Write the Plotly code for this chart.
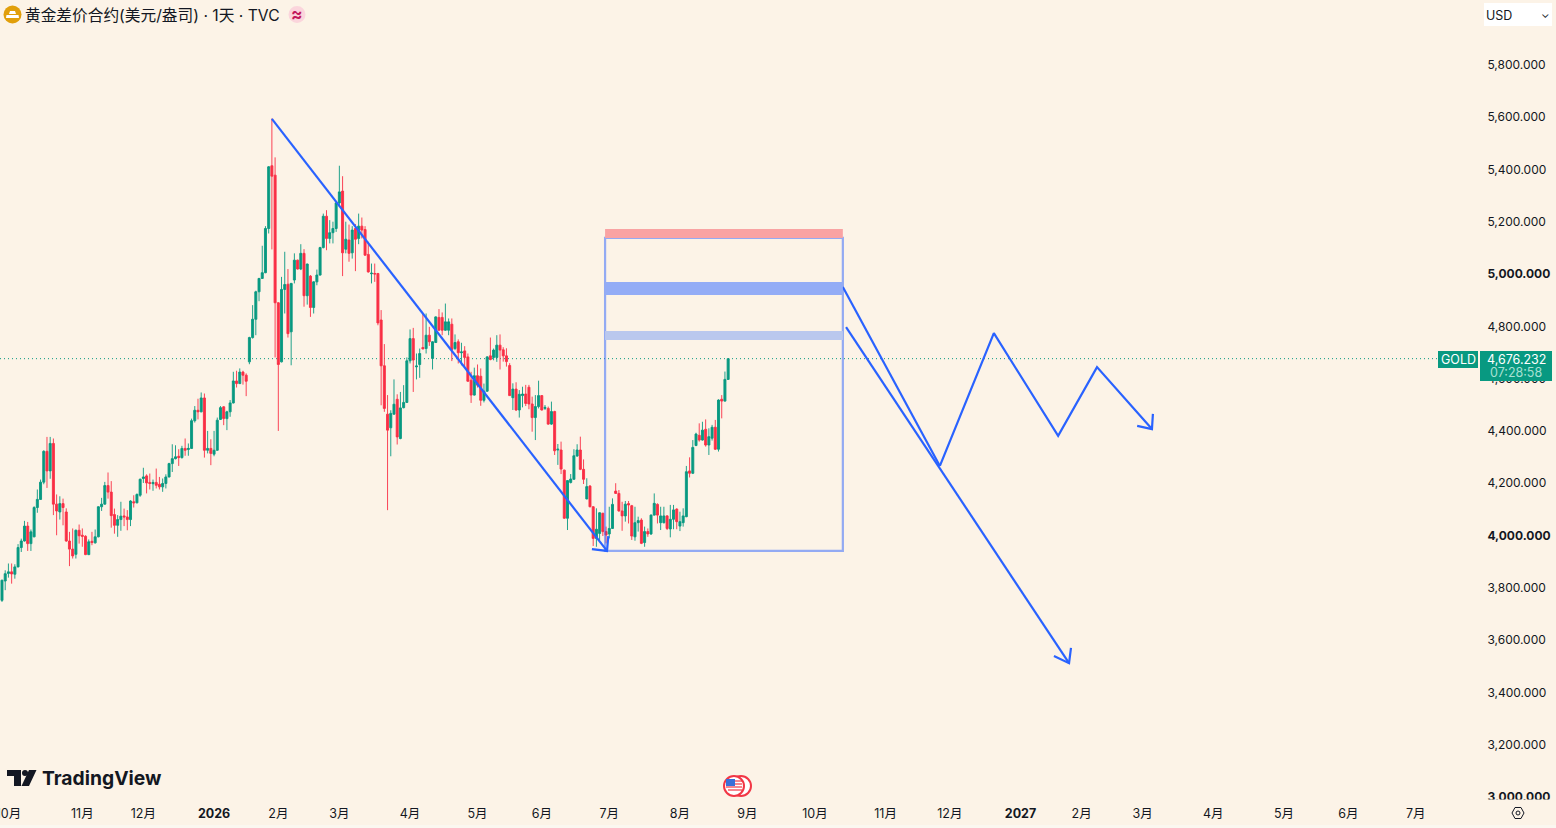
import plotly.graph_objects as go

# daily gold bars. x is the bar number, first bar = 0
opens = [
    3752, 3826, 3855, 3861, 3852, 3880, 3954, 3979, 4036, 3969,
    3995, 4107, 4138, 4204, 4322, 4247, 4352, 4120, 4090, 4122,
    4090, 3979, 3948, 3928, 4020, 4001, 3997, 3927, 3978, 3972,
    3995, 4110, 4120, 4191, 4166, 4080, 4039, 4061, 4075, 4071,
    4061, 4129, 4125, 4154, 4218, 4228, 4203, 4198, 4203, 4196,
    4186, 4199, 4224, 4275, 4294, 4303, 4298, 4333, 4329, 4333,
    4439, 4479, 4473, 4526, 4326, 4333, 4311, 4326, 4444, 4492,
    4447, 4473, 4507, 4591, 4581, 4625, 4613, 4664, 4757, 4827,
    4932, 4983, 5005, 5174, 5414, 5378, 4890, 4664, 4941, 4961,
    4779, 4977, 5053, 5019, 5079, 4917, 4992, 4872, 4970, 4996,
    5101, 5221, 5136, 5158, 5174, 5272, 5317, 5095, 5130, 5081,
    5174, 5136, 5183, 5170, 5075, 5001, 5002, 5002, 4824, 4649,
    4464, 4412, 4464, 4521, 4371, 4489, 4509, 4668, 4753, 4645,
    4654, 4719, 4715, 4766, 4677, 4738, 4834, 4834, 4785, 4785,
    4808, 4715, 4741, 4699, 4706, 4683, 4594, 4537, 4611, 4609,
    4517, 4552, 4687, 4681, 4681, 4728, 4710, 4687, 4650, 4527,
    4560, 4480, 4535, 4541, 4567, 4503, 4451, 4493, 4535, 4486,
    4486, 4426, 4474, 4327, 4327, 4250, 4066, 4203, 4215, 4304,
    4327, 4253, 4140, 4189, 4110, 3989, 4008, 4085, 4015, 4006,
    4027, 4170, 4161, 4094, 4075, 4122, 4114, 3995, 4049, 4059,
    3973, 4015, 4006, 4078, 4119, 4049, 4049, 4075, 4025, 4062,
    4101, 4036, 4049, 4072, 4247, 4238, 4344, 4383, 4365, 4406,
    4346, 4372, 4414, 4330, 4521, 4514, 4597,
]
highs = [
    3831, 3867, 3893, 3893, 3890, 3967, 3988, 4056, 4052, 4023,
    4112, 4176, 4214, 4326, 4377, 4377, 4371, 4157, 4150, 4141,
    4104, 4014, 4027, 4023, 4042, 4027, 4001, 3985, 4014, 4023,
    4112, 4144, 4205, 4241, 4208, 4103, 4078, 4129, 4103, 4097,
    4135, 4154, 4161, 4218, 4259, 4234, 4237, 4214, 4256, 4224,
    4218, 4234, 4278, 4349, 4345, 4330, 4343, 4371, 4352, 4447,
    4495, 4523, 4547, 4543, 4400, 4368, 4400, 4451, 4495, 4495,
    4477, 4518, 4626, 4630, 4639, 4630, 4620, 4760, 4881, 4936,
    4985, 5108, 5183, 5413, 5595, 5446, 4892, 4989, 5085, 5019,
    4966, 5079, 5055, 5114, 5095, 5040, 4996, 4972, 5017, 5104,
    5231, 5244, 5206, 5200, 5276, 5414, 5374, 5200, 5189, 5183,
    5191, 5231, 5216, 5183, 5123, 5040, 5040, 5004, 4862, 4732,
    4537, 4479, 4597, 4540, 4549, 4575, 4681, 4788, 4794, 4696,
    4715, 4849, 4849, 4798, 4743, 4838, 4866, 4853, 4887, 4830,
    4830, 4769, 4750, 4737, 4724, 4696, 4626, 4642, 4654, 4639,
    4581, 4686, 4757, 4715, 4766, 4769, 4720, 4716, 4659, 4582,
    4586, 4556, 4569, 4576, 4576, 4531, 4537, 4592, 4537, 4499,
    4493, 4512, 4477, 4350, 4359, 4252, 4212, 4235, 4330, 4349,
    4378, 4291, 4219, 4193, 4112, 4104, 4089, 4087, 4034, 4110,
    4142, 4200, 4174, 4129, 4132, 4132, 4117, 4110, 4072, 4066,
    4034, 4027, 4081, 4161, 4123, 4110, 4110, 4078, 4117, 4117,
    4104, 4091, 4104, 4266, 4299, 4365, 4393, 4429, 4435, 4444,
    4410, 4423, 4442, 4521, 4537, 4627, 4676.232,
]
lows = [
    3746, 3791, 3839, 3816, 3835, 3878, 3937, 3977, 3941, 3941,
    3993, 4087, 4136, 4196, 4182, 4217, 4078, 4001, 4061, 4039,
    3976, 3883, 3912, 3912, 3969, 3957, 3925, 3925, 3963, 3969,
    3993, 4094, 4118, 4141, 4030, 4007, 3995, 4018, 4036, 4020,
    4036, 4107, 4123, 4148, 4201, 4161, 4176, 4171, 4180, 4176,
    4167, 4180, 4222, 4243, 4291, 4266, 4294, 4305, 4305, 4331,
    4432, 4444, 4471, 4298, 4314, 4269, 4303, 4324, 4442, 4422,
    4403, 4454, 4505, 4566, 4579, 4577, 4533, 4655, 4753, 4766,
    4896, 4981, 5003, 5155, 5094, 4681, 4400, 4662, 4849, 4757,
    4651, 4964, 5017, 5015, 4875, 4883, 4836, 4849, 4957, 4994,
    5098, 5091, 5117, 5117, 5161, 5257, 4992, 5079, 5047, 5059,
    5011, 5114, 5136, 5070, 5005, 4964, 4970, 4804, 4498, 4473,
    4097, 4303, 4462, 4348, 4368, 4486, 4507, 4658, 4549, 4597,
    4603, 4711, 4696, 4725, 4635, 4737, 4783, 4766, 4783, 4766,
    4667, 4709, 4658, 4651, 4645, 4588, 4507, 4535, 4566, 4496,
    4509, 4549, 4670, 4670, 4664, 4635, 4665, 4646, 4534, 4480,
    4476, 4451, 4490, 4495, 4483, 4397, 4365, 4486, 4478, 4480,
    4423, 4423, 4308, 4270, 4235, 4064, 4021, 4199, 4213, 4301,
    4250, 4197, 4138, 4108, 3960, 3957, 3983, 3998, 3970, 3989,
    4025, 4159, 4091, 4018, 4053, 4046, 3983, 3980, 4015, 3967,
    3957, 3995, 4002, 4076, 4046, 4021, 4046, 4021, 3993, 4024,
    4024, 4017, 4034, 4070, 4222, 4235, 4342, 4359, 4363, 4340,
    4308, 4363, 4327, 4321, 4448, 4512, 4595,
]
closes = [
    3829, 3854, 3861, 3853, 3880, 3954, 3979, 4036, 3969, 4014,
    4107, 4138, 4204, 4322, 4247, 4352, 4120, 4094, 4122, 4107,
    3979, 3948, 3922, 4020, 3999, 3997, 3927, 3976, 3973, 3995,
    4110, 4120, 4191, 4166, 4076, 4039, 4061, 4074, 4071, 4061,
    4132, 4125, 4157, 4215, 4224, 4201, 4199, 4203, 4192, 4186,
    4199, 4224, 4275, 4294, 4301, 4298, 4333, 4326, 4333, 4439,
    4479, 4473, 4526, 4326, 4333, 4314, 4326, 4441, 4489, 4447,
    4473, 4507, 4591, 4581, 4625, 4613, 4590, 4757, 4827, 4932,
    4983, 5005, 5174, 5410, 5374, 4890, 4654, 4941, 4960, 4772,
    4964, 5053, 5019, 5079, 4917, 5038, 4872, 4970, 4996, 5101,
    5221, 5136, 5158, 5174, 5272, 5314, 5081, 5133, 5079, 5168,
    5133, 5183, 5168, 5072, 5008, 5003, 5000, 4813, 4649, 4486,
    4403, 4467, 4502, 4377, 4488, 4509, 4668, 4753, 4671, 4648,
    4696, 4714, 4766, 4741, 4741, 4836, 4785, 4785, 4817, 4817,
    4711, 4738, 4699, 4702, 4681, 4590, 4537, 4611, 4575, 4517,
    4552, 4683, 4673, 4709, 4728, 4709, 4687, 4665, 4535, 4560,
    4480, 4540, 4541, 4505, 4503, 4451, 4493, 4535, 4480, 4490,
    4426, 4474, 4324, 4330, 4254, 4066, 4210, 4216, 4305, 4327,
    4253, 4215, 4187, 4110, 3989, 4024, 4087, 4015, 4002, 4027,
    4119, 4161, 4094, 4075, 4120, 4117, 3998, 4049, 4057, 3970,
    4015, 4006, 4078, 4123, 4078, 4075, 4075, 4027, 4062, 4098,
    4053, 4053, 4075, 4244, 4238, 4337, 4388, 4365, 4403, 4346,
    4378, 4414, 4330, 4518, 4514, 4597, 4676.232,
]
bars = list(range(len(closes)))
last_price = closes[-1]

# axes
time_bars = [2, 25, 44, 66, 86, 105, 127, 148, 168, 189, 211, 232, 253, 275, 295,
             317, 336, 355, 377, 399, 419, 440]
time_labels = ['10月', '11月', '12月', '<b>2026</b>', '2月', '3月', '4月', '5月', '6月', '7月',
               '8月', '9月', '10月', '11月', '12月', '<b>2027</b>', '2月', '3月', '4月', '5月',
               '6月', '7月']
price_ticks = [3000, 3200, 3400, 3600, 3800, 4000, 4200, 4400, 4600, 4800, 5000, 5200,
               5400, 5600, 5800]
price_labels = ['<b>3,000.000</b>', '3,200.000', '3,400.000', '3,600.000', '3,800.000',
                '<b>4,000.000</b>', '4,200.000', '4,400.000', '4,600.000', '4,800.000',
                '<b>5,000.000</b>', '5,200.000', '5,400.000', '5,600.000', '5,800.000']

# the drawings on the chart, (bar, price)
trend_bars = [84, 188.3]
trend_prices = [5593, 3941]
trend_head_bars = [183.6, 188.3, 188.7]
trend_head_prices = [3948, 3941, 3998]
short_bars = [261.7, 291.9]
short_prices = [4950, 4266]
long_bars = [262.7, 332.1]
long_prices = [4797, 3512]
long_head_bars = [327.4, 332.1, 332.7]
long_head_prices = [3539, 3512, 3570]
zigzag_bars = [291.9, 308.7, 328.7, 340.8, 357.9]
zigzag_prices = [4266, 4774, 4381, 4644, 4407]
zigzag_head_bars = [353.3, 357.9, 358.2]
zigzag_head_prices = [4419, 4407, 4465]
box_bars = [187.7, 261.7]
box_prices = [3941, 5138]
bands = [(5138, 5172, '#f9a3a3'), (4920, 4969, '#93acf6'), (4748, 4782, '#bac8ee')]

BG = '#fcf3e7'
GREEN = '#089981'
RED = '#f92f45'
BLUE = '#2962ff'
TEXT = '#131722'
FONT = 'Inter, "Noto Sans CJK SC", sans-serif'
W, H = 1556, 828
PLOT_W, PLOT_H = 1480, 800


def xp(px):
    return px / PLOT_W


def yp(py):
    return 1 - py / PLOT_H


def pixel_path(points):
    return 'M' + 'L'.join(f'{xp(a):.5f},{yp(b):.5f}' for a, b in points) + 'Z'


fig = go.Figure()
fig.add_trace(go.Candlestick(
    x=bars, open=opens, high=highs, low=lows, close=closes,
    increasing=dict(line=dict(color=GREEN, width=0.9), fillcolor=GREEN),
    decreasing=dict(line=dict(color=RED, width=0.9), fillcolor=RED),
    whiskerwidth=0, showlegend=False))

for xs, ys in [(trend_bars, trend_prices), (trend_head_bars, trend_head_prices),
               (short_bars, short_prices), (long_bars, long_prices),
               (long_head_bars, long_head_prices), (zigzag_bars, zigzag_prices),
               (zigzag_head_bars, zigzag_head_prices)]:
    fig.add_trace(go.Scatter(x=xs, y=ys, mode='lines', showlegend=False,
                             line=dict(color=BLUE, width=2.2)))

# last price line
fig.add_shape(type='line', xref='paper', yref='y', x0=0, x1=xp(1437), y0=last_price, y1=last_price,
              line=dict(color=GREEN, width=1, dash='1px,3px'), layer='below')

# box and bands
fig.add_shape(type='rect', x0=box_bars[0], x1=box_bars[1], y0=box_prices[0], y1=box_prices[1],
              line=dict(color='rgba(41,98,255,0.5)', width=2.2), fillcolor='rgba(0,0,0,0)')
for low, high, color in bands:
    fig.add_shape(type='rect', x0=box_bars[0], x1=box_bars[1], y0=low, y1=high,
                  line=dict(width=0), fillcolor=color)

# clips the lowest price label like the time scale does
fig.add_shape(type='rect', xref='paper', yref='paper', x0=xp(1481), x1=xp(1556), y0=yp(799.5), y1=yp(806),
              line=dict(width=0), fillcolor=BG)
# thin pale strip along the bottom of the window
fig.add_shape(type='rect', xref='paper', yref='paper', x0=0, x1=xp(1556), y0=yp(825), y1=yp(828),
              line=dict(width=0), fillcolor='#fbf7f0')

# header
fig.add_shape(type='circle', xref='paper', yref='paper', x0=xp(3.5), x1=xp(21.5), y0=yp(5.5), y1=yp(23.5),
              line=dict(width=0), fillcolor='#e19f0b')
fig.add_shape(type='path', xref='paper', yref='paper', line=dict(width=0), fillcolor='white',
              path=pixel_path([(10, 11), (15, 11), (16, 14), (9, 14)]))
fig.add_shape(type='path', xref='paper', yref='paper', line=dict(width=0), fillcolor='white',
              path=pixel_path([(6.5, 15), (18.5, 15), (19, 18), (6, 18)]))
fig.add_shape(type='circle', xref='paper', yref='paper', x0=xp(288.5), x1=xp(305.5), y0=yp(6), y1=yp(23),
              line=dict(width=0), fillcolor='#fbd5dc')
fig.add_shape(type='rect', xref='paper', yref='paper', x0=xp(1484), x1=xp(1552), y0=yp(3), y1=yp(26),
              line=dict(width=0), fillcolor='white')

# price tags
fig.add_shape(type='rect', xref='paper', yref='paper', x0=xp(1438), x1=xp(1478), y0=yp(351), y1=yp(368),
              line=dict(width=0), fillcolor=GREEN)
fig.add_shape(type='rect', xref='paper', yref='paper', x0=xp(1480), x1=xp(1552), y0=yp(351), y1=yp(381),
              line=dict(width=0), fillcolor=GREEN)

# TradingView logo
fig.add_shape(type='path', xref='paper', yref='paper', line=dict(width=0), fillcolor=TEXT,
              path=pixel_path([(7, 770), (21, 770), (21, 786), (14, 786), (14, 776), (7, 776)]))
fig.add_shape(type='circle', xref='paper', yref='paper', x0=xp(22), x1=xp(28), y0=yp(770), y1=yp(776),
              line=dict(width=0), fillcolor=TEXT)
fig.add_shape(type='path', xref='paper', yref='paper', line=dict(width=0), fillcolor=TEXT,
              path=pixel_path([(29, 770), (36.5, 770), (29, 786), (21.5, 786)]))

# flag marker on the time scale
fig.add_shape(type='circle', xref='paper', yref='paper', x0=xp(731), x1=xp(751), y0=yp(776), y1=yp(796),
              line=dict(color='#f23645', width=2), fillcolor='white')
fig.add_shape(type='circle', xref='paper', yref='paper', x0=xp(724), x1=xp(744), y0=yp(776), y1=yp(796),
              line=dict(color='#f23645', width=2), fillcolor='white')
fig.add_shape(type='rect', xref='paper', yref='paper', x0=xp(726), x1=xp(735), y0=yp(779), y1=yp(786),
              line=dict(width=0), fillcolor='#3a6fd8')
for stripe_y, stripe_x0 in [(781, 735), (784, 735), (787, 726), (790, 728)]:
    fig.add_shape(type='line', xref='paper', yref='paper', x0=xp(stripe_x0), x1=xp(742), y0=yp(stripe_y), y1=yp(stripe_y),
                  line=dict(color='#f23645', width=1.2))

# gear on the time scale
fig.add_shape(type='path', xref='paper', yref='paper', line=dict(color=TEXT, width=1), fillcolor='rgba(0,0,0,0)',
              path=pixel_path([(1512, 813), (1515, 807.5), (1521, 807.5), (1524, 813), (1521, 818.5), (1515, 818.5)]))
fig.add_shape(type='circle', xref='paper', yref='paper', x0=xp(1516), x1=xp(1520), y0=yp(811), y1=yp(815),
              line=dict(color=TEXT, width=1), fillcolor='rgba(0,0,0,0)')


def label(px, py, text, size=13, color=TEXT, anchor='left'):
    fig.add_annotation(xref='paper', yref='paper', x=xp(px), y=yp(py), text=text, showarrow=False,
                       xanchor=anchor, yanchor='middle', align=anchor, borderpad=0, borderwidth=0,
                       font=dict(family=FONT, size=size, color=color))


label(25, 15, '黄金差价合约(美元/盎司) · 1天 · TVC', size=15.7)
label(297, 14.5, '<b>≈</b>', size=17, color='#c2185b', anchor='center')
label(1486, 15.5, 'USD', size=12.5)
label(1545, 14, '⌄', size=11, anchor='center')
label(1458, 359.5, 'GOLD', size=12.5, color='white', anchor='center')
label(1516, 359, '4,676.232', size=12.5, color='white', anchor='center')
label(1516, 372.5, '07:28:58', size=12.5, color='#a6e0d3', anchor='center')
label(42, 778, '<b>TradingView</b>', size=19.3)

fig.update_layout(
    width=W, height=H,
    margin=dict(l=0, r=W - PLOT_W, t=0, b=H - PLOT_H, pad=0, autoexpand=False),
    paper_bgcolor=BG, plot_bgcolor=BG,
    font=dict(family=FONT, size=13, color=TEXT),
    hovermode=False, dragmode=False, boxgap=0.1,
    xaxis=dict(range=[-0.62, 460], showgrid=False, zeroline=False, showline=False,
               rangeslider=dict(visible=False), ticklabeloverflow='allow',
               tickmode='array', tickvals=time_bars, ticktext=time_labels,
               ticks='outside', ticklen=2, tickcolor='rgba(0,0,0,0)', tickfont=dict(size=12.5)),
    yaxis=dict(range=[2988.6, 6047.8], side='right', showgrid=False, zeroline=False, showline=False,
               ticklabeloverflow='allow',
               tickmode='array', tickvals=price_ticks, ticktext=price_labels,
               ticks='outside', ticklen=4, tickcolor='rgba(0,0,0,0)', tickfont=dict(size=12)),
)

# the default page has an 8px body margin and would push the chart off the window
fig.write_html("out.html", config=dict(displayModeBar=False),
               post_script="document.body.style.margin='0';document.body.style.overflow='hidden';")
